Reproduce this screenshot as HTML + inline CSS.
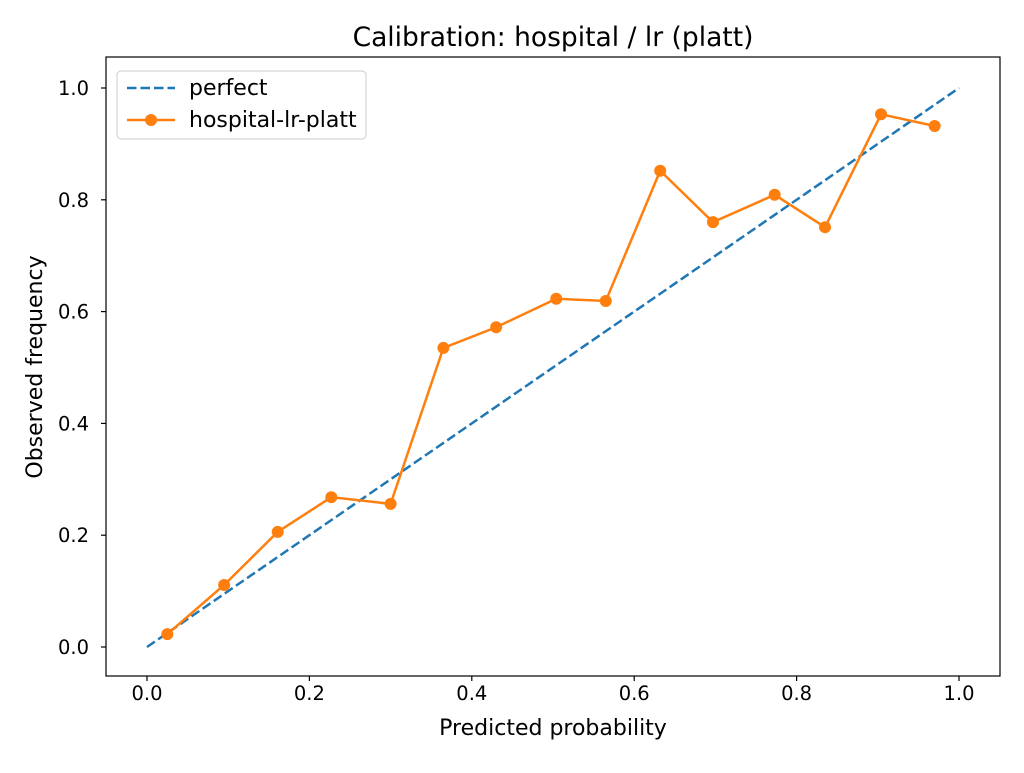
<!DOCTYPE html>
<html><head><meta charset="utf-8"><style>
body{margin:0;background:#fff;}
svg text{font-family:"DejaVu Sans","Liberation Sans",sans-serif;}
</style></head><body>
<svg id="chart" width="1024" height="768" xmlns="http://www.w3.org/2000/svg">
<rect width="1024" height="768" fill="#fff"/>
<text x="553" y="46" text-anchor="middle" font-size="26.5">Calibration: hospital / lr (platt)</text>
<g id="axes"></g>
<g id="marks"></g>
<rect x="106" y="57" width="894" height="619" fill="none" stroke="#000" stroke-width="1.2"/>
<text x="553" y="735" text-anchor="middle" font-size="22">Predicted probability</text>
<text transform="translate(42,367) rotate(-90)" text-anchor="middle" font-size="22">Observed frequency</text>
<g>
<rect x="117" y="71" width="249" height="68" rx="4" fill="#fff" stroke="#ccc"/>
<line x1="127" y1="88" x2="175" y2="88" stroke="#1f77b4" stroke-width="2.5" stroke-dasharray="9.5,4"/>
<text x="189" y="95" font-size="22">perfect</text>
<line x1="127" y1="120" x2="175" y2="120" stroke="#ff7f0e" stroke-width="2.5"/>
<circle cx="151" cy="120" r="6" fill="#ff7f0e"/>
<text x="189" y="127" font-size="22">hospital-lr-platt</text>
</g>
</svg>
<script>
const xValues=[0.025,0.095,0.161,0.227,0.300,0.365,0.430,0.504,0.565,0.632,0.697,0.773,0.835,0.904,0.970];
const yValues=[0.023,0.111,0.206,0.268,0.256,0.535,0.572,0.623,0.619,0.852,0.760,0.809,0.751,0.953,0.932];
const xTicks=[0,0.2,0.4,0.6,0.8,1.0];
const yTicks=[0,0.2,0.4,0.6,0.8,1.0];
const tickLabels=["0.0","0.2","0.4","0.6","0.8","1.0"];
const NS="http://www.w3.org/2000/svg";
const sx=v=>147+v*812, sy=v=>647-v*559;
const axes=document.getElementById('axes'), marks=document.getElementById('marks');
function mk(tag,attrs,parent){const e=document.createElementNS(NS,tag);for(const k in attrs)e.setAttribute(k,attrs[k]);parent.appendChild(e);return e;}
xTicks.forEach((t,i)=>{
  const l=mk('line',{x1:sx(t),x2:sx(t),y1:676,y2:681,stroke:'#000','stroke-width':1.2},axes);
  
  
  const tx=mk('text',{x:sx(t),y:700,'text-anchor':'middle','font-size':19.5},axes);tx.textContent=tickLabels[i];
  
  
});
yTicks.forEach((t,i)=>{
  const l=mk('line',{x1:101,x2:106,y1:sy(t),y2:sy(t),stroke:'#000','stroke-width':1.2},axes);
  
  
  const tx=mk('text',{x:89,y:sy(t)+7,'text-anchor':'end','font-size':19.5},axes);tx.textContent=tickLabels[i];
  
  
});
const diag=mk('line',{x1:sx(0),y1:sy(0),x2:sx(1),y2:sy(1),stroke:'#1f77b4','stroke-width':2.5,'stroke-dasharray':'9.5,4'},marks);


const pl=mk('polyline',{points:xValues.map((x,i)=>sx(x)+','+sy(yValues[i])).join(' '),fill:'none',stroke:'#ff7f0e','stroke-width':2.5},marks);


xValues.forEach((x,i)=>{
  const c=mk('circle',{cx:sx(x),cy:sy(yValues[i]),r:6,fill:'#ff7f0e'},marks);
  
  
});
</script>
</body></html>
